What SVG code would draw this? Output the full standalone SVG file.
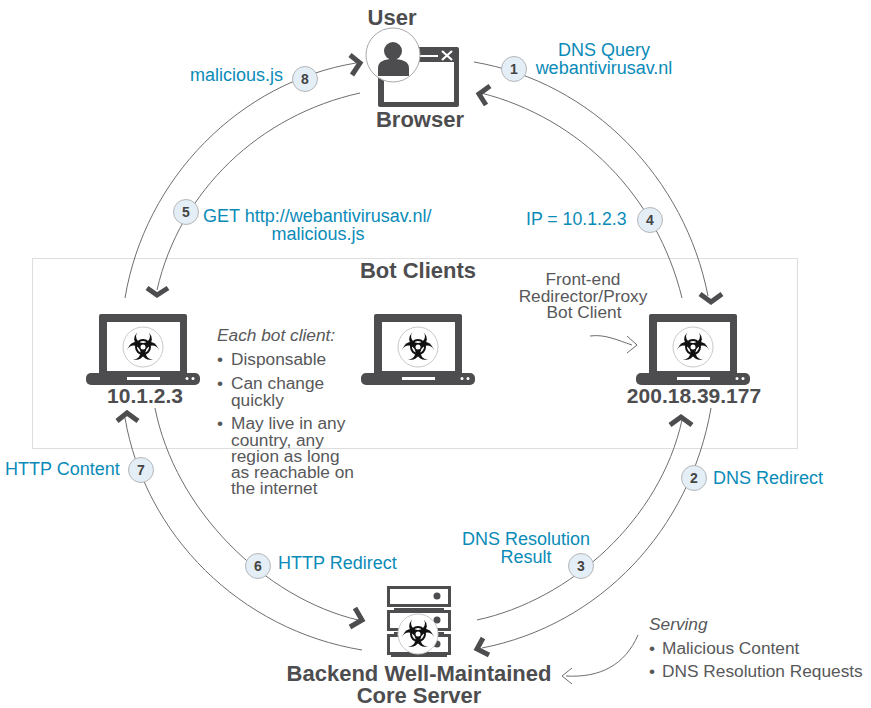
<svg xmlns="http://www.w3.org/2000/svg" xmlns:xlink="http://www.w3.org/1999/xlink" width="871" height="708" viewBox="0 0 871 708">
<style>
text{font-family:"Liberation Sans",Arial,sans-serif}
.b{fill:#0a8bb8;font-size:18px}
.h{fill:#4d4d4f;font-size:22px;font-weight:bold}
.ip{font-size:21px}
.g{fill:#58585a;font-size:17.3px}
.n{fill:#444;font-size:14px;font-weight:bold;text-anchor:middle}
.m{text-anchor:middle}
.c{fill:none;stroke:#6e6e70;stroke-width:1}
.a{fill:none;stroke:#4d4d4f;stroke-width:5}
.d{fill:#4d4d4f}
.badge{fill:#e4eef7;stroke:#b4b6b8;stroke-width:1}
</style>
<defs>
<g id="bio">
<circle r="20" fill="#fff" stroke="#c9c9c9"/>
<g id="lobes">
<g id="lobe"><circle cy="-7.800" r="8.800" fill="#111"/><circle cy="-11" r="7" fill="#fff"/></g>
<use xlink:href="#lobe" transform="rotate(120)"/>
<use xlink:href="#lobe" transform="rotate(240)"/>
</g>
<circle r="7" fill="none" stroke="#111" stroke-width="2"/>
<circle r="2.500" fill="#fff"/>
</g>
<g id="laptop">
<rect x="-44" y="-33" width="88" height="62" rx="2" class="d"/>
<rect x="-36" y="-25" width="73" height="49" fill="#fff"/>
<rect x="-57" y="26" width="114" height="12" rx="5" class="d"/>
<rect x="-16" y="30" width="33" height="3" fill="#fff"/>
<circle cx="44" cy="31.500" r="1.500" fill="#fff"/><circle cx="50" cy="31.500" r="1.500" fill="#fff"/>
<use xlink:href="#bio"/>
</g>
</defs>
<rect width="871" height="708" fill="#fff"/>
<rect id="bot-clients-box" x="32.500" y="258.500" width="765" height="190" fill="none" stroke="#dedede"/>
<g id="connectors">
<path class="c" d="M474 62C592 82 685 178 708 296"/>
<path class="c" d="M481 93C580 118 657 196 682 298"/>
<path class="c" d="M711 408C690 530 600 625 482 648"/>
<path class="c" d="M682 420C660 520 570 600 477 620"/>
<path class="c" d="M125 418C145 535 240 630 362 650"/>
<path class="c" d="M155 408C175 510 265 598 358 620"/>
<path class="c" d="M125 298C145 178 240 82 356 63"/>
<path class="c" d="M360 93C260 115 180 190 157 290"/>
<path class="a" d="M350 55L360 63L352 75"/>
<path class="a" d="M490 86L479 94L486 105"/>
<path class="a" d="M700 294L711 302L722 294"/>
<path class="a" d="M147 288L157 295L168 288"/>
<path class="a" d="M117 421L127 413L138 421"/>
<path class="a" d="M670 425L681 417L692 425"/>
<path class="a" d="M355 608L362 620L350 627"/>
<path class="a" d="M483 638L477 649L489 655"/>
</g>
<g id="node-user">
<text class="h m" x="392" y="25">User</text>
<rect x="378" y="47" width="81" height="60" rx="2" class="d"/>
<rect x="384" y="62" width="70" height="40" fill="#fff"/>
<path d="M442 51L452 60M452 51L442 60" stroke="#fff" stroke-width="2.200"/>
<path d="M418 56H438" stroke="#fff" stroke-width="2"/>
<circle cx="393" cy="55" r="27" fill="#fff" stroke="#a9a9a9"/>
<circle cx="393" cy="51" r="9" class="d"/>
<path class="d" d="M378 76V68C378 61 385 59 393 59C401 59 409 61 409 68V76Z"/>
<text class="h m" x="420" y="127">Browser</text>
</g>
<g id="node-bot-left">
<use xlink:href="#laptop" x="143" y="347"/>
<text class="h ip m" x="145" y="403">10.1.2.3</text>
</g>
<g id="node-bot-middle">
<use xlink:href="#laptop" x="418" y="347"/>
</g>
<g id="node-bot-right">
<use xlink:href="#laptop" x="693" y="347"/>
<text class="h ip m" x="694" y="403">200.18.39.177</text>
</g>
<g id="node-server">
<rect x="388.500" y="587.500" width="61" height="18" fill="#fff" stroke="#4d4d4f" stroke-width="3"/>
<rect x="388.500" y="611.500" width="61" height="18" fill="#fff" stroke="#4d4d4f" stroke-width="3"/>
<rect x="388.500" y="635.500" width="61" height="18" fill="#fff" stroke="#4d4d4f" stroke-width="3"/>
<rect x="394" y="608" width="50" height="2" class="d"/>
<rect x="394" y="632" width="50" height="2" class="d"/>
<rect x="391" y="654" width="56" height="3" class="d"/>
<circle cx="437" cy="596" r="3.500" class="d"/><circle cx="437" cy="620" r="3.500" class="d"/><circle cx="437" cy="644" r="3.500" class="d"/>
<use xlink:href="#bio" x="418" y="634"/>
<text class="h m" x="419" y="681">Backend Well-Maintained</text>
<text class="h m" x="419" y="703">Core Server</text>
</g>
<text class="h m" x="418" y="278">Bot Clients</text>
<g id="labels">
<text class="b m" x="604" y="56">DNS Query</text>
<text class="b m" x="604" y="74">webantivirusav.nl</text>
<text class="b" x="190" y="81">malicious.js</text>
<text class="b" x="203" y="222">GET http://webantivirusav.nl/</text>
<text class="b m" x="318" y="240">malicious.js</text>
<text class="b" x="526" y="225" style="font-size:17.700px">IP = 10.1.2.3</text>
<text class="b" x="5" y="475">HTTP Content</text>
<text class="b" x="713" y="484">DNS Redirect</text>
<text class="b" x="278" y="569">HTTP Redirect</text>
<text class="b m" x="526" y="545">DNS Resolution</text>
<text class="b m" x="526" y="563">Result</text>
<text class="g m" x="583" y="285">Front-end</text>
<text class="g m" x="583" y="302">Redirector/Proxy</text>
<text class="g m" x="584" y="318">Bot Client</text>
<text class="g" x="217" y="341" font-style="italic">Each bot client:</text>
<text class="g" x="217" y="365">•</text><text class="g" x="231" y="365">Disponsable</text>
<text class="g" x="217" y="389">•</text><text class="g" x="231" y="389">Can change</text>
<text class="g" x="231" y="406">quickly</text>
<text class="g" x="217" y="429">•</text><text class="g" x="231" y="429">May live in any</text>
<text class="g" x="231" y="446">country, any</text>
<text class="g" x="231" y="462">region as long</text>
<text class="g" x="231" y="478">as reachable on</text>
<text class="g" x="231" y="494">the internet</text>
<text class="g" x="649" y="630" font-style="italic">Serving</text>
<text class="g" x="649" y="654">•</text><text class="g" x="662" y="654">Malicious Content</text>
<text class="g" x="649" y="677">•</text><text class="g" x="662" y="677">DNS Resolution Requests</text>
</g>
<path class="c" d="M590 336C605 334 617 340 632 345"/>
<path class="c" d="M627 336L637 345L627 353" stroke-width="1.300"/>
<path class="c" d="M638 635C625 665 600 678 566 676"/>
<path class="c" d="M572 668L562 676L572 684" stroke-width="1.300"/>
<g id="badges">
<g id="badge-1"><circle class="badge" cx="514" cy="69" r="12.500"/><text class="n" x="514" y="74">1</text></g>
<g id="badge-2"><circle class="badge" cx="694" cy="478" r="12.500"/><text class="n" x="694" y="483">2</text></g>
<g id="badge-3"><circle class="badge" cx="581" cy="566" r="12.500"/><text class="n" x="581" y="571">3</text></g>
<g id="badge-4"><circle class="badge" cx="650" cy="220" r="12.500"/><text class="n" x="650" y="225">4</text></g>
<g id="badge-5"><circle class="badge" cx="186" cy="212" r="12.500"/><text class="n" x="186" y="217">5</text></g>
<g id="badge-6"><circle class="badge" cx="258" cy="566" r="12.500"/><text class="n" x="258" y="571">6</text></g>
<g id="badge-7"><circle class="badge" cx="141" cy="470" r="12.500"/><text class="n" x="141" y="475">7</text></g>
<g id="badge-8"><circle class="badge" cx="305" cy="79" r="12.500"/><text class="n" x="305" y="84">8</text></g>
</g>
</svg>
